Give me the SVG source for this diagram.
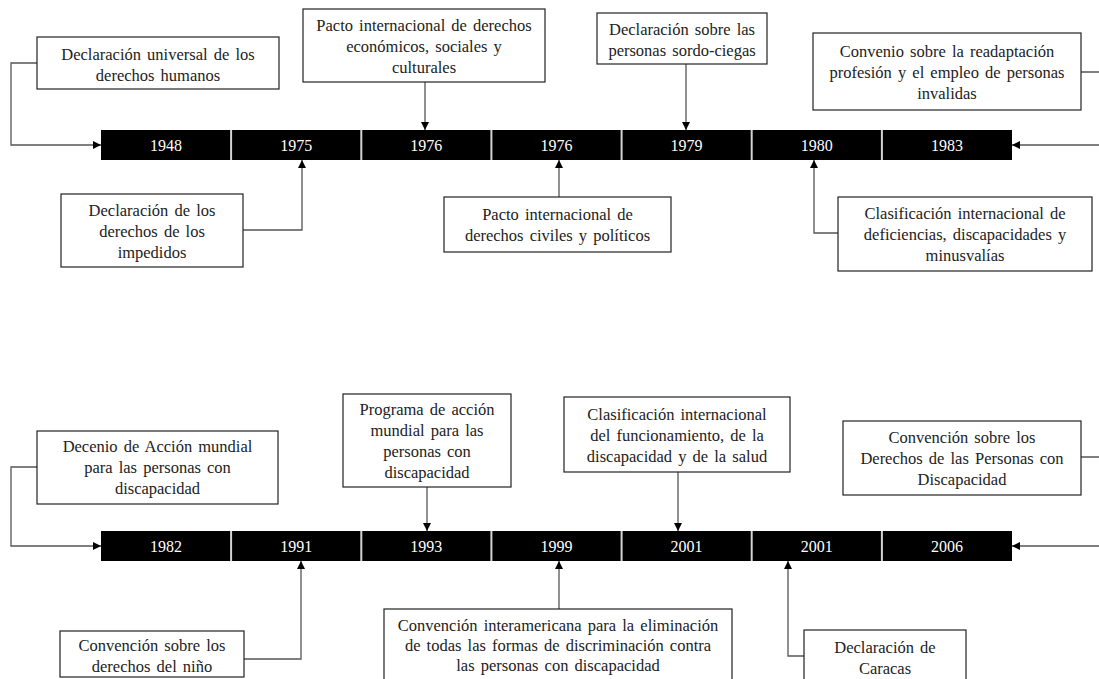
<svg xmlns="http://www.w3.org/2000/svg" width="1099" height="679" viewBox="0 0 1099 679">
<defs>
<style>
.box{fill:#fff;stroke:#222;stroke-width:1.2}
.t{font-family:"Liberation Serif","Times New Roman",serif;font-size:16.5px;fill:#222;text-anchor:middle;word-spacing:2px}
.yr{font-family:"Liberation Serif","Times New Roman",serif;font-size:16px;fill:#fff;text-anchor:middle}
.bar{fill:#000}
.sep{stroke:#d4d4d4;stroke-width:2}
.c{fill:none;stroke:#555;stroke-width:1.3;marker-end:url(#ah)}
</style>
<marker id="ah" markerUnits="userSpaceOnUse" markerWidth="10" markerHeight="10" refX="8" refY="4" orient="auto">
<path d="M0,0 L8,4 L0,8 Z" fill="#000"/>
</marker>
</defs>
<rect width="1099" height="679" fill="#fff"/>

<g id="timeline-top">
<rect class="bar" x="101" y="130" width="911" height="30"/>
<line class="sep" x1="231.1" y1="130" x2="231.1" y2="160"/>
<line class="sep" x1="361.3" y1="130" x2="361.3" y2="160"/>
<line class="sep" x1="491.4" y1="130" x2="491.4" y2="160"/>
<line class="sep" x1="621.6" y1="130" x2="621.6" y2="160"/>
<line class="sep" x1="751.7" y1="130" x2="751.7" y2="160"/>
<line class="sep" x1="881.9" y1="130" x2="881.9" y2="160"/>
<text class="yr" x="166.1" y="150.5">1948</text>
<text class="yr" x="296.2" y="150.5">1975</text>
<text class="yr" x="426.3" y="150.5">1976</text>
<text class="yr" x="556.5" y="150.5">1976</text>
<text class="yr" x="686.6" y="150.5">1979</text>
<text class="yr" x="816.8" y="150.5">1980</text>
<text class="yr" x="946.9" y="150.5">1983</text>
</g>

<g id="timeline-bottom">
<rect class="bar" x="101" y="531" width="911" height="30"/>
<line class="sep" x1="231.1" y1="531" x2="231.1" y2="561"/>
<line class="sep" x1="361.3" y1="531" x2="361.3" y2="561"/>
<line class="sep" x1="491.4" y1="531" x2="491.4" y2="561"/>
<line class="sep" x1="621.6" y1="531" x2="621.6" y2="561"/>
<line class="sep" x1="751.7" y1="531" x2="751.7" y2="561"/>
<line class="sep" x1="881.9" y1="531" x2="881.9" y2="561"/>
<text class="yr" x="166.1" y="551.5">1982</text>
<text class="yr" x="296.2" y="551.5">1991</text>
<text class="yr" x="426.3" y="551.5">1993</text>
<text class="yr" x="556.5" y="551.5">1999</text>
<text class="yr" x="686.6" y="551.5">2001</text>
<text class="yr" x="816.8" y="551.5">2001</text>
<text class="yr" x="946.9" y="551.5">2006</text>
</g>

<g id="connectors">
<path class="c" d="M37,63 H11 V145 H101"/>
<path class="c" d="M425,82 V130"/>
<path class="c" d="M686,64 V130"/>
<path class="c" d="M1081,72 H1106 V145 H1012"/>
<path class="c" d="M243,230 H302 V160"/>
<path class="c" d="M559,197 V160"/>
<path class="c" d="M838,233 H814 V160"/>
<path class="c" d="M37,467 H11 V546 H101"/>
<path class="c" d="M427,487 V531"/>
<path class="c" d="M678,472 V531"/>
<path class="c" d="M1081,457 H1106 V546 H1012"/>
<path class="c" d="M244,659 H301 V561"/>
<path class="c" d="M559,609 V561"/>
<path class="c" d="M804,656 H788 V561"/>
</g>

<g id="n1948">
<rect class="box" x="37" y="37" width="242" height="52"/>
<text class="t" x="158" y="59.5">Declaración universal de los</text>
<text class="t" x="158" y="80.5">derechos humanos</text>
</g>
<g id="n1976a">
<rect class="box" x="303" y="9" width="242" height="73"/>
<text class="t" x="424" y="31">Pacto internacional de derechos</text>
<text class="t" x="424" y="52">económicos, sociales y</text>
<text class="t" x="424" y="73">culturales</text>
</g>
<g id="n1979">
<rect class="box" x="597" y="13" width="170" height="51"/>
<text class="t" x="682" y="35">Declaración sobre las</text>
<text class="t" x="682" y="56">personas sordo-ciegas</text>
</g>
<g id="n1983">
<rect class="box" x="813" y="33" width="268" height="77"/>
<text class="t" x="947" y="57">Convenio sobre la readaptación</text>
<text class="t" x="947" y="78">profesión y el empleo de personas</text>
<text class="t" x="947" y="99">invalidas</text>
</g>
<g id="n1975">
<rect class="box" x="61" y="194" width="182" height="73"/>
<text class="t" x="152" y="216">Declaración de los</text>
<text class="t" x="152" y="237">derechos de los</text>
<text class="t" x="152" y="258">impedidos</text>
</g>
<g id="n1976b">
<rect class="box" x="444" y="197" width="227" height="55"/>
<text class="t" x="557.5" y="220">Pacto internacional de</text>
<text class="t" x="557.5" y="241">derechos civiles y políticos</text>
</g>
<g id="n1980">
<rect class="box" x="838" y="197" width="254" height="74"/>
<text class="t" x="965" y="219">Clasificación internacional de</text>
<text class="t" x="965" y="240">deficiencias, discapacidades y</text>
<text class="t" x="965" y="261">minusvalías</text>
</g>

<g id="n1982">
<rect class="box" x="37" y="431" width="241" height="73"/>
<text class="t" x="157.5" y="452">Decenio de Acción mundial</text>
<text class="t" x="157.5" y="473">para las personas con</text>
<text class="t" x="157.5" y="494">discapacidad</text>
</g>
<g id="n1993">
<rect class="box" x="343" y="394" width="168" height="93"/>
<text class="t" x="427" y="414.5">Programa de acción</text>
<text class="t" x="427" y="435.5">mundial para las</text>
<text class="t" x="427" y="456.5">personas con</text>
<text class="t" x="427" y="477.5">discapacidad</text>
</g>
<g id="n2001a">
<rect class="box" x="564" y="397" width="226" height="75"/>
<text class="t" x="677" y="419.5">Clasificación internacional</text>
<text class="t" x="677" y="440.5">del funcionamiento, de la</text>
<text class="t" x="677" y="461.5">discapacidad y de la salud</text>
</g>
<g id="n2006">
<rect class="box" x="843" y="421" width="238" height="74"/>
<text class="t" x="962" y="443">Convención sobre los</text>
<text class="t" x="962" y="464">Derechos de las Personas con</text>
<text class="t" x="962" y="485">Discapacidad</text>
</g>
<g id="n1991">
<rect class="box" x="60" y="631" width="184" height="46"/>
<text class="t" x="152" y="650.5">Convención sobre los</text>
<text class="t" x="152" y="671.5">derechos del niño</text>
</g>
<g id="n1999">
<rect class="box" x="384" y="609" width="348" height="80"/>
<text class="t" x="558" y="631">Convención interamericana para la eliminación</text>
<text class="t" x="558" y="651">de todas las formas de discriminación contra</text>
<text class="t" x="558" y="671">las personas con discapacidad</text>
</g>
<g id="n2001b">
<rect class="box" x="804" y="630" width="162" height="58"/>
<text class="t" x="885" y="653">Declaración de</text>
<text class="t" x="885" y="674">Caracas</text>
</g>
</svg>
